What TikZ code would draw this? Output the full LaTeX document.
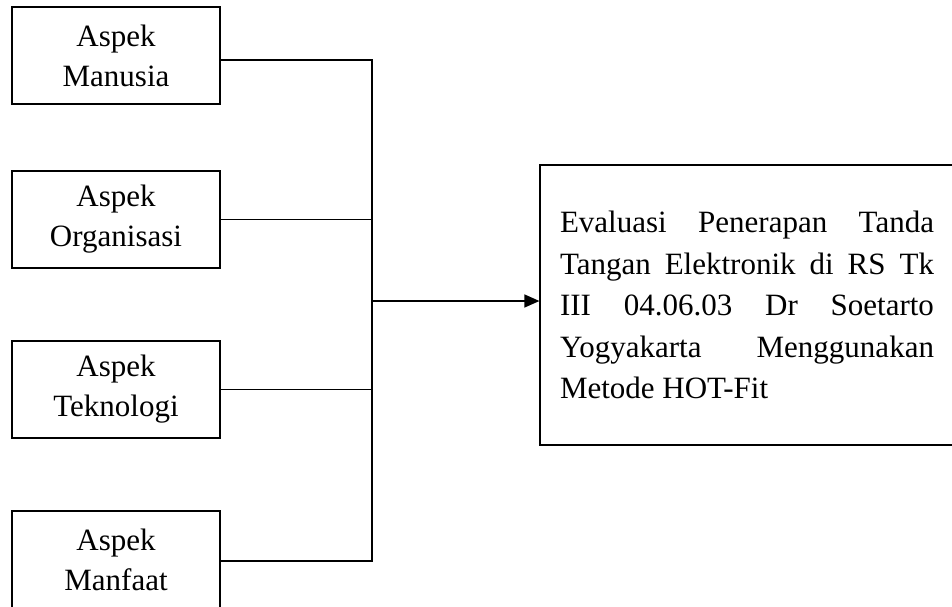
\documentclass[tikz,border=0pt]{standalone}
\usepackage{fontspec}
\setmainfont{Liberation Serif}
\usetikzlibrary{arrows.meta}
\begin{document}
\begin{tikzpicture}[x=1pt,y=-1pt,
  aspect/.style={draw, line width=1.2pt, minimum width=208pt, minimum height=97pt,
    align=center, inner sep=0pt, font=\fontsize{31}{40}\selectfont},
  conn/.style={line width=1.2pt},
  goalbox/.style={draw, line width=1.2pt, text width=374pt, inner xsep=20pt, inner ysep=0pt,
    minimum height=280pt, align=justify,
    font=\fontsize{31}{41.5}\selectfont}]
\useasboundingbox (0,0) rectangle (952,607);
\node[aspect] (b1) at (116,55.5) {Aspek\\Manusia};
\node[aspect] (b2) at (116,219.5) {Aspek\\Organisasi};
\node[aspect] (b3) at (116,389.5) {Aspek\\Teknologi};
\node[aspect] (b4) at (116,559.5) {Aspek\\Manfaat};
\node[goalbox] (goal) at (747,305) {\hyphenpenalty=10000\relax Evaluasi Penerapan Tanda\linebreak Tangan Elektronik di RS Tk\linebreak III 04.06.03 Dr Soetarto\linebreak Yogyakarta Menggunakan\linebreak Metode HOT-Fit};
\coordinate (bt) at (372,60);
\coordinate (bb) at (372,561);
\coordinate (mid) at (372,301);
\draw[conn] ([yshift=-4.5pt]b1.east) -- (bt) -- (bb) -- ([yshift=-1.5pt]b4.east);
\draw[conn] (b2.east) -- (b2.east -| bt);
\draw[conn] (b3.east) -- (b3.east -| bt);
\draw[conn, -{Triangle[length=15pt,width=13pt]}] (mid) -- (goal.west |- mid);
\end{tikzpicture}
\end{document}
